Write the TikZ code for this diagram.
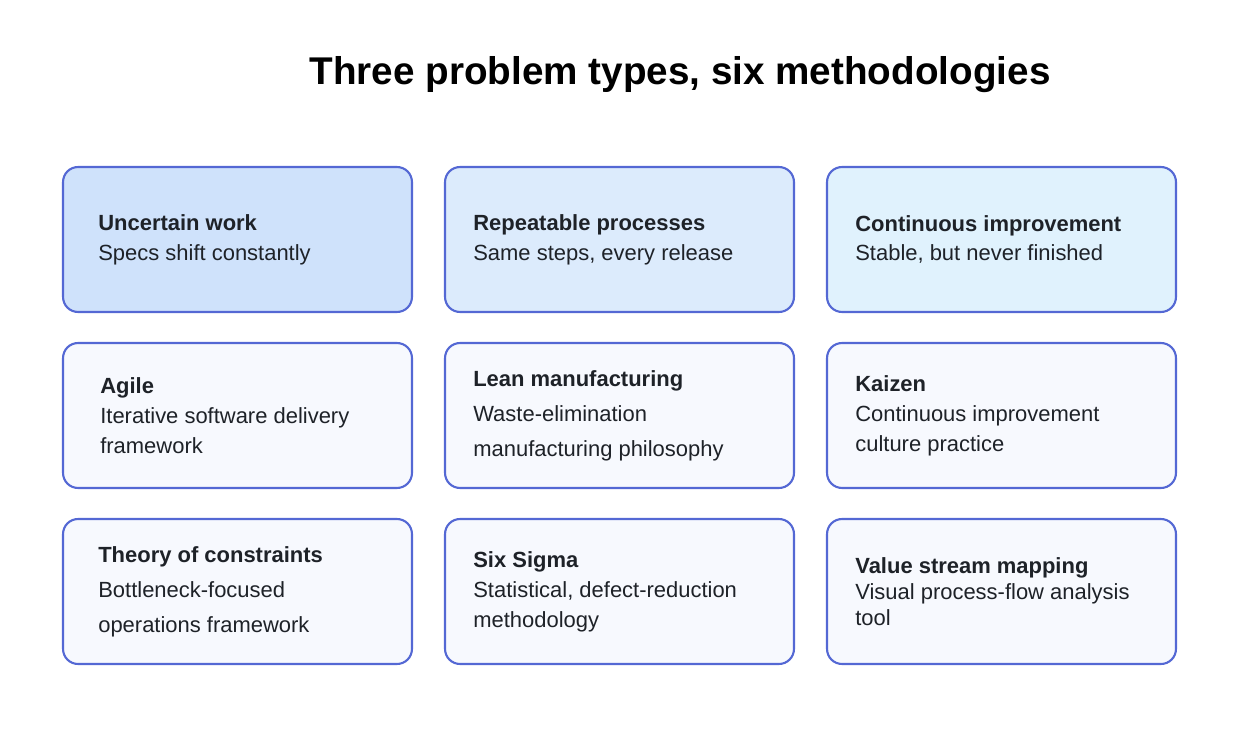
\documentclass[tikz,border=0pt]{standalone}
\usepackage{fontspec}
\setmainfont{Liberation Sans}
\usetikzlibrary{positioning}
\definecolor{edgeblue}{HTML}{5468D4}
\definecolor{fillA}{HTML}{CFE2FB}
\definecolor{fillB}{HTML}{DCEBFC}
\definecolor{fillC}{HTML}{E0F2FD}
\definecolor{fillD}{HTML}{F7F9FE}
\definecolor{ink}{HTML}{1E2228}
\tikzset{
  card/.style={draw=edgeblue, line width=1.2pt, rounded corners=0.3cm,
    minimum width=6.98cm, minimum height=2.9cm, fill=fillD},
  info/.style={anchor=west, align=left, text=ink, font=\fontsize{12.5}{17}\selectfont, inner sep=0pt}
}
\newcommand{\cardtext}[4]{\node[info] (#1) at ([xshift=#2cm]#3.west) {#4};}
\begin{document}
\begin{tikzpicture}[x=0.02cm, y=-0.02cm]
  \useasboundingbox (0,0) rectangle (1242,737);
  \node[font=\bfseries\fontsize{22}{26}\selectfont, text=black] (title) at (680,75) {Three problem types, six methodologies};

  % top row: problem types
  \node[card, fill=fillA] (uw) at (237.5,239.5) {};
  \node[card, fill=fillB] (rp) at (619.5,239.5) {};
  \node[card, fill=fillC] (ci) at (1001.5,239.5) {};
  % middle row
  \node[card] (ag) at (237.5,415.5) {};
  \node[card] (lm) at (619.5,415.5) {};
  \node[card] (kz) at (1001.5,415.5) {};
  % bottom row
  \node[card] (tc) at (237.5,591.5) {};
  \node[card] (ss) at (619.5,591.5) {};
  \node[card] (vs) at (1001.5,591.5) {};

  \cardtext{uwt}{0.72}{uw}{\textbf{Uncertain work}\\Specs shift constantly}
  \cardtext{rpt}{0.58}{rp}{\textbf{Repeatable processes}\\Same steps, every release}
  \cardtext{cit}{0.58}{ci}{\textbf{Continuous improvement}\\Stable, but never finished}
  \cardtext{agt}{0.76}{ag}{\textbf{Agile}\\Iterative software delivery\\framework}
  \cardtext{lmt}{0.58}{lm}{\textbf{Lean manufacturing}\\[3pt]Waste-elimination\\[3pt]manufacturing philosophy}
  \cardtext{kzt}{0.58}{kz}{\textbf{Kaizen}\\Continuous improvement\\culture practice}
  \cardtext{tct}{0.72}{tc}{\textbf{Theory of constraints}\\[3pt]Bottleneck-focused\\[3pt]operations framework}
  \cardtext{sst}{0.58}{ss}{\textbf{Six Sigma}\\Statistical, defect-reduction\\methodology}
  \cardtext{vst}{0.58}{vs}{\textbf{Value stream mapping}\\[-2pt]Visual process-flow analysis\\[-2pt]tool}
\end{tikzpicture}
\end{document}
